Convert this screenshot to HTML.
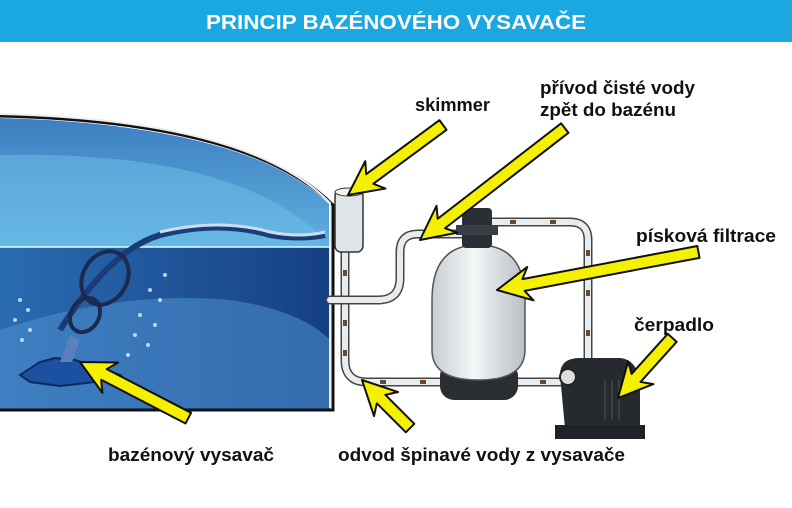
<!DOCTYPE html>
<html><head><meta charset="utf-8"><style>
html,body{margin:0;padding:0;background:#fff;width:792px;height:508px;overflow:hidden}
svg{display:block}
text{font-family:"Liberation Sans",sans-serif;font-weight:bold}
</style></head><body>
<svg width="792" height="508" viewBox="0 0 792 508" xmlns="http://www.w3.org/2000/svg">
<defs>
<linearGradient id="up" x1="0" y1="0" x2="0" y2="1"><stop offset="0" stop-color="#3d7fc0"/><stop offset="1" stop-color="#5fb0e0"/></linearGradient>
<linearGradient id="dn" x1="0" y1="0" x2="1" y2="0"><stop offset="0" stop-color="#2a6cb0"/><stop offset="1" stop-color="#163f85"/></linearGradient>
<linearGradient id="tank" x1="0" y1="0" x2="1" y2="0"><stop offset="0" stop-color="#c9ced3"/><stop offset=".45" stop-color="#f4f6f7"/><stop offset="1" stop-color="#b9bfc5"/></linearGradient>
</defs>
<rect x="0" y="0" width="792" height="42" fill="#1ba7e0"/>
<text x="396" y="29" fill="#fff" font-size="20" text-anchor="middle" textLength="380" lengthAdjust="spacingAndGlyphs">PRINCIP BAZÉNOVÉHO VYSAVAČE</text>
<path d="M0,118 Q250,125 330,205 L330,247 L0,247 Z" fill="url(#up)"/>
<path d="M0,155 Q230,150 320,235 L320,247 L0,247Z" fill="#6fc0ea" opacity=".5"/>
<rect x="0" y="247" width="330" height="163" fill="url(#dn)"/>
<path d="M0,330 Q120,290 230,300 Q300,310 330,340 L330,410 L0,410Z" fill="#4f8fcf" opacity=".55"/>
<path d="M0,116 Q250,122 333,205 L333,410 L0,410" fill="none" stroke="#111" stroke-width="3"/>
<path d="M0,114 Q250,120 330,203 L330,408" fill="none" stroke="#eee" stroke-width="2"/>
<line x1="0" y1="247" x2="330" y2="247" stroke="#dff" stroke-width="1.5"/>
<path d="M60,330 Q110,250 160,235 Q220,220 270,235 Q300,240 325,235" fill="none" stroke="#1a3d7a" stroke-width="6"/>
<path d="M160,232 Q220,218 270,232 Q300,238 325,232" fill="none" stroke="#cde" stroke-width="3"/>
<g fill="#dfefff" opacity=".8">
<circle cx="20" cy="300" r="2"/><circle cx="28" cy="310" r="2"/><circle cx="15" cy="320" r="2"/><circle cx="30" cy="330" r="2"/><circle cx="22" cy="340" r="2"/>
<circle cx="150" cy="290" r="2"/><circle cx="160" cy="300" r="2"/><circle cx="140" cy="315" r="2"/><circle cx="155" cy="325" r="2"/><circle cx="135" cy="335" r="2"/><circle cx="148" cy="345" r="2"/><circle cx="128" cy="355" r="2"/><circle cx="165" cy="275" r="2"/>
</g>
<ellipse cx="105" cy="278" rx="22" ry="28" fill="none" stroke="#1a2a50" stroke-width="4" transform="rotate(30 105 278)"/>
<ellipse cx="85" cy="315" rx="14" ry="18" fill="none" stroke="#1a2a50" stroke-width="4" transform="rotate(30 85 315)"/>
<path d="M20,375 L40,362 L55,358 L75,360 L100,368 L120,375 L95,382 L60,386 L30,382Z" fill="#1c50a0" stroke="#0d2a60" stroke-width="2"/>
<path d="M60,362 L70,335 L80,340 L72,362Z" fill="#5a80c0"/>
<g fill="none" stroke-linecap="round" stroke-linejoin="round">
<path d="M345,250 L345,360 Q345,382 367,382 L560,382" stroke="#444" stroke-width="9"/>
<path d="M345,250 L345,360 Q345,382 367,382 L560,382" stroke="#e8ecef" stroke-width="6"/>
<path d="M330,300 L378,300 Q400,300 400,278 L400,252 Q400,234 418,234 L465,234" stroke="#444" stroke-width="9"/>
<path d="M330,300 L378,300 Q400,300 400,278 L400,252 Q400,234 418,234 L465,234" stroke="#e8ecef" stroke-width="6"/>
<path d="M490,222 L570,222 Q588,222 588,240 L588,360" stroke="#444" stroke-width="9"/>
<path d="M490,222 L570,222 Q588,222 588,240 L588,360" stroke="#e8ecef" stroke-width="6"/>
</g>
<g fill="#6a4a30">
<rect x="343" y="270" width="4" height="6"/><rect x="343" y="320" width="4" height="6"/><rect x="343" y="350" width="4" height="6"/>
<rect x="380" y="380" width="6" height="4"/><rect x="420" y="380" width="6" height="4"/><rect x="460" y="380" width="6" height="4"/><rect x="500" y="380" width="6" height="4"/><rect x="540" y="380" width="6" height="4"/>
<rect x="586" y="250" width="4" height="6"/><rect x="586" y="290" width="4" height="6"/><rect x="586" y="330" width="4" height="6"/>
<rect x="510" y="220" width="6" height="4"/><rect x="550" y="220" width="6" height="4"/>
</g>
<rect x="335" y="190" width="28" height="62" rx="6" fill="#dfe4e8" stroke="#333" stroke-width="1.5"/>
<ellipse cx="349" cy="192" rx="14" ry="4" fill="#f4f4f4" stroke="#333"/>
<rect x="440" y="362" width="78" height="38" rx="14" fill="#2a2e33"/>
<path d="M432,300 Q432,245 478,245 Q525,245 525,300 L525,350 Q525,380 478,380 Q432,380 432,350Z" fill="url(#tank)" stroke="#555" stroke-width="1.5"/>
<rect x="462" y="208" width="30" height="40" rx="4" fill="#2b2f35"/>
<rect x="456" y="225" width="42" height="10" fill="#3a3f46"/>
<path d="M560,375 Q560,358 580,358 L620,358 Q640,360 640,390 L640,428 L565,428Z" fill="#26292e"/>
<rect x="555" y="425" width="90" height="14" fill="#1f2226"/>
<circle cx="568" cy="377" r="8" fill="#ddd" stroke="#222" stroke-width="2"/>
<g stroke="#555" stroke-width="1"><line x1="605" y1="380" x2="605" y2="420"/><line x1="612" y1="380" x2="612" y2="420"/><line x1="619" y1="380" x2="619" y2="420"/></g>
<g fill="#f4f000" stroke="#111" stroke-width="2" stroke-linejoin="round">
<path transform="translate(348,195) rotate(143.6)" d="M0,0 L-34,-17 L-27,-6 L-118,-6 L-118,6 L-27,6 L-34,17 Z"/>
<path transform="translate(420,240) rotate(142.3)" d="M0,0 L-34,-17 L-27,-6 L-183,-6 L-183,6 L-27,6 L-34,17 Z"/>
<path transform="translate(497,290) rotate(169.3)" d="M0,0 L-34,-17 L-27,-6 L-205,-6 L-205,6 L-27,6 L-34,17 Z"/>
<path transform="translate(618,398) rotate(132)" d="M0,0 L-34,-17 L-27,-6 L-81,-6 L-81,6 L-27,6 L-34,17 Z"/>
<path transform="translate(80,362) rotate(-152.6)" d="M0,0 L-34,-17 L-27,-6 L-122,-6 L-122,6 L-27,6 L-34,17 Z"/>
<path transform="translate(362,380) rotate(-135)" d="M0,0 L-34,-17 L-27,-6 L-68,-6 L-68,6 L-27,6 L-34,17 Z"/>
</g>
<g font-size="18" fill="#111">
<text x="415" y="111" textLength="75" lengthAdjust="spacingAndGlyphs">skimmer</text>
<text x="540" y="94" textLength="155" lengthAdjust="spacingAndGlyphs">přívod čisté vody</text>
<text x="540" y="116" textLength="136" lengthAdjust="spacingAndGlyphs">zpět do bazénu</text>
<text x="636" y="242" textLength="140" lengthAdjust="spacingAndGlyphs">písková filtrace</text>
<text x="634" y="331" textLength="80" lengthAdjust="spacingAndGlyphs">čerpadlo</text>
<text x="108" y="461" textLength="166" lengthAdjust="spacingAndGlyphs">bazénový vysavač</text>
<text x="338" y="461" textLength="287" lengthAdjust="spacingAndGlyphs">odvod špinavé vody z vysavače</text>
</g>
</svg>
</body></html>
